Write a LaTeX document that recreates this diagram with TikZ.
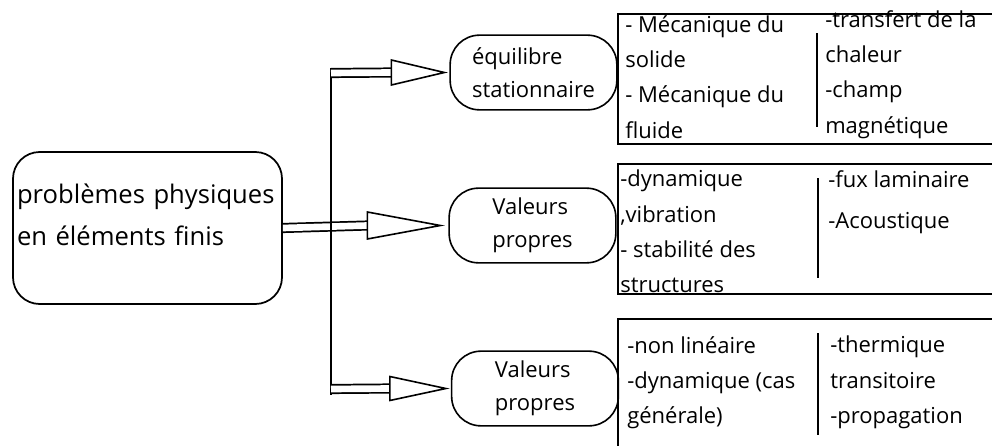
\documentclass[tikz,border=0pt]{standalone}
\usepackage{fontspec}
\setmainfont{Open Sans}
\usepackage{tikz}
\usetikzlibrary{calc,positioning}

\tikzset{
  shaft/.style={double, double distance=5pt, line width=1.3pt},
  head/.style={line width=1.2pt, fill=white, line join=miter},
  mainbox/.style={draw, line width=1.3pt, rounded corners=20pt, minimum width=201.75pt, minimum height=114pt,
    inner xsep=3pt, text width=195.75pt, align=left, font=\fontsize{19.2}{28}\selectfont},
  topic/.style={draw, line width=1.2pt, rounded corners=22pt, minimum width=125pt, minimum height=56pt,
    inner sep=1pt, align=left, font=\fontsize{16.5}{25}\selectfont},
  panel/.style={draw, line width=1.3pt, anchor=north west, minimum width=300pt},
  coltext/.style={align=left, anchor=north west, inner sep=0pt, font=\fontsize{16.5}{26.5}\selectfont},
  divider/.style={line width=2.2pt},
  bus/.style={line width=1.8pt},
}

% arrow: from, tip, head length, half width
\newcommand{\blockarrow}[4]{%
  \draw[shaft] (#1) -- ($(#2)+(-#3,0)$);
  \draw[head] ($(#2)+(-#3,-#4)$) -- (#2) -- ($(#2)+(-#3,#4)$) -- cycle;}

\begin{document}
\begin{tikzpicture}[x=0.75pt, y=-0.75pt]
    \clip (0,0) rectangle (992,446);
    \fill[white] (0,0) rectangle (992,446);

    % root
    \node[mainbox] (pb) at (147.5,228) {problèmes physiques\\[4pt]en éléments finis\\[-8pt]\mbox{}};

    % the three kinds of problems
    \node[topic] (eq) at (533.5,72.5) {équilibre\\stationnaire};
    \node[topic] (vp1) at (532.5,225.5) {Valeurs\\propres};
    \node[topic] (vp2) at (535,388.5) {Valeurs\\propres};

    % panels
    \node[panel, minimum height=97.5pt] (box1) at (617,13) {};
    \node[panel, minimum height=97.5pt] (box2) at (617,163) {};
    \node[panel, minimum height=114pt] (box3) at (617,318) {};

    % panel 1
    \node[coltext] (s1) at (625,15) {- Mécanique du\\solide\\- Mécanique du\\fluide};
    \node[coltext] (s2) at (825,10) {-transfert de la\\chaleur\\-champ\\magnétique};
    \draw[divider] (817,33) -- (817,127);

    % panel 2
    \node[coltext] (d1) at (620,170) {-dynamique\\,vibration\\- stabilité des\\structures};
    \node[coltext, font=\fontsize{16.5}{30.75}\selectfont] (d2) at (828,170) {-fux laminaire\\-Acoustique};
    \draw[divider] (818,178) -- (818,278);

    % panel 3
    \node[coltext] (n1) at (627,336) {-non linéaire\\-dynamique (cas\\générale)};
    \node[coltext] (n2) at (830,336) {-thermique\\transitoire\\-propagation};
    \draw[divider] (818,333) -- (818,435);

    % connectors
    \coordinate (ft) at (331,73);
    \coordinate (fb) at (331,389);
    \coordinate (bt) at (331,68);
    \coordinate (bb) at (331,395);
    \coordinate (tip1) at ($(eq.west)+(-5,0)$);
    \coordinate (tip2) at ($(vp1.west)+(-8,0)$);
    \coordinate (tip3) at ($(vp2.west)+(-5,0)$);

    \blockarrow{pb.east}{tip2}{73}{13.5}
    \draw[bus] (bt) -- (bb);
    \blockarrow{ft}{tip1}{53}{12.5}
    \blockarrow{fb}{tip3}{56}{12}
\end{tikzpicture}
\end{document}
